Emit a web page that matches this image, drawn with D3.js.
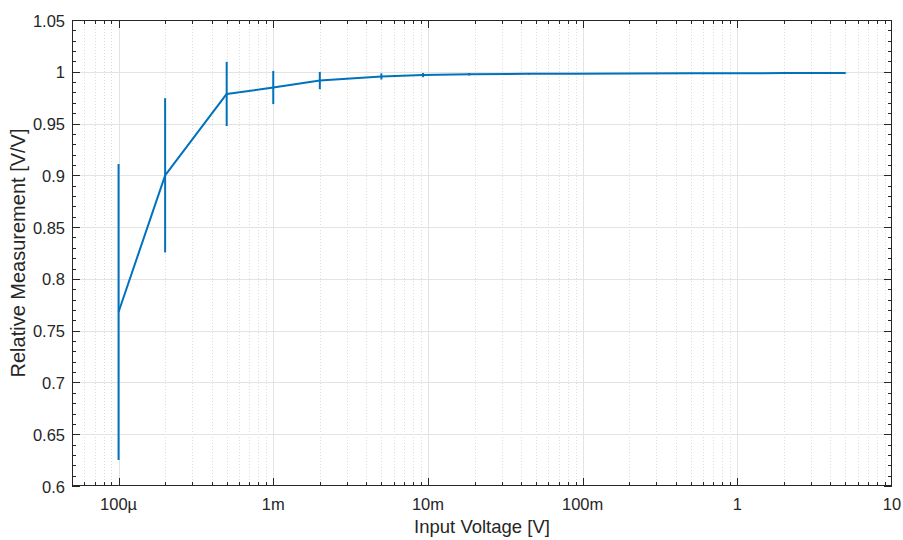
<!DOCTYPE html>
<html>
<head>
<meta charset="utf-8">
<script src="https://cdn.jsdelivr.net/npm/d3@7"></script>
<style>
  body { margin: 0; background: #fff; }
  text { font-family: "Liberation Sans", Arial, sans-serif; fill: #262626; }
</style>
</head>
<body>
<script>
// measured points: input voltage [V], relative measurement [V/V], error half-width
const voltage = [1e-4, 2e-4, 5e-4, 1e-3, 2e-3, 5e-3, 9.3e-3, 1.85e-2, 4.5e-2, 9e-2, 0.2, 0.5, 1, 2, 5];
const relative = [0.768, 0.900, 0.9786, 0.9848, 0.9915, 0.9955, 0.9968, 0.9976, 0.998, 0.9982, 0.9984, 0.9985, 0.9986, 0.9987, 0.9988];
const errHalf = [0.143, 0.0745, 0.031, 0.016, 0.0083, 0.003, 0.002, 0.0012, 0.0008, 0.0005, 0.0004, 0.0004, 0.0004, 0.0004, 0.0004];

const xTicks = [1e-4, 1e-3, 1e-2, 1e-1, 1, 10];
const xTickLabels = ['100µ', '1m', '10m', '100m', '1', '10'];
const yTicks = [0.6, 0.65, 0.7, 0.75, 0.8, 0.85, 0.9, 0.95, 1, 1.05];
const yTickLabels = ['0.6', '0.65', '0.7', '0.75', '0.8', '0.85', '0.9', '0.95', '1', '1.05'];

const width = 903, height = 540;
const mLeft = 72, mRight = 892, mTop = 20, mBottom = 486;
const blue = '#0072bd', axisColor = '#262626';

const x = d3.scaleLog().domain([5e-5, 10]).range([mLeft, mRight]);
const y = d3.scaleLinear().domain([0.6, 1.05]).range([mBottom, mTop]);

// minor log ticks 1..9 x 10^k inside the domain
let xMinor = [];
for (let e = -5; e <= 0; e++) {
    for (let m = 2; m <= 9; m++) {
        let v = m * Math.pow(10, e);
        if (v > 5e-5 && v < 10) xMinor.push(v);
    }
}
let yMinor = d3.range(0.6, 1.0501, 0.01).filter(v => !yTicks.some(t => Math.abs(t - v) < 1e-6));

const svg = d3.select('body').append('svg')
    .attr('width', width)
    .attr('height', height);

// grid
const grid = svg.append('g');
grid.selectAll('.xminor')
    .data(xMinor)
    .join('line')
    .attr('x1', d => Math.round(x(d)) + 0.5).attr('x2', d => Math.round(x(d)) + 0.5)
    .attr('y1', mTop).attr('y2', mBottom)
    .attr('stroke', '#dcdcdc')
    .attr('stroke-dasharray', '1,2');
grid.selectAll('.xmajor')
    .data(xTicks.filter(v => v < 10))
    .join('line')
    .attr('x1', d => Math.round(x(d)) + 0.5).attr('x2', d => Math.round(x(d)) + 0.5)
    .attr('y1', mTop).attr('y2', mBottom)
    .attr('stroke', '#e3e3e3');
grid.selectAll('.ymajor')
    .data(yTicks.slice(1, -1))
    .join('line')
    .attr('x1', mLeft).attr('x2', mRight)
    .attr('y1', d => Math.round(y(d)) + 0.5).attr('y2', d => Math.round(y(d)) + 0.5)
    .attr('stroke', '#e3e3e3');

// data line and error bars
const line = d3.line()
    .x((d, i) => x(voltage[i]))
    .y(d => y(d));

svg.append('g')
    .selectAll('line')
    .data(voltage)
    .join('line')
    .attr('x1', d => x(d)).attr('x2', d => x(d))
    .attr('y1', (d, i) => y(relative[i] - errHalf[i]))
    .attr('y2', (d, i) => y(relative[i] + errHalf[i]))
    .attr('stroke', blue)
    .attr('stroke-width', 2);

svg.append('path')
    .datum(relative)
    .attr('d', line)
    .attr('fill', 'none')
    .attr('stroke', blue)
    .attr('stroke-width', 2)
    .attr('stroke-linejoin', 'round');

// axes box with inward ticks on all sides
const ax = svg.append('g').attr('stroke', axisColor).attr('stroke-width', 1);
ax.append('rect')
    .attr('x', mLeft + 0.5).attr('y', mTop + 0.5)
    .attr('width', mRight - mLeft - 1).attr('height', mBottom - mTop - 1)
    .attr('fill', 'none');

function xTickMarks(data, len) {
    data.forEach(v => {
        let px = Math.round(x(v)) + 0.5;
        ax.append('line').attr('x1', px).attr('x2', px).attr('y1', mBottom).attr('y2', mBottom - len);
        ax.append('line').attr('x1', px).attr('x2', px).attr('y1', mTop).attr('y2', mTop + len);
    });
}
function yTickMarks(data, len) {
    data.forEach(v => {
        let py = Math.round(y(v)) + 0.5;
        ax.append('line').attr('x1', mLeft).attr('x2', mLeft + len).attr('y1', py).attr('y2', py);
        ax.append('line').attr('x1', mRight).attr('x2', mRight - len).attr('y1', py).attr('y2', py);
    });
}
xTickMarks(xTicks.filter(v => v < 10), 8);
xTickMarks(xMinor, 4);
yTickMarks(yTicks, 8);
yTickMarks(yMinor, 4);

// tick labels
svg.append('g')
    .selectAll('text')
    .data(xTicks)
    .join('text')
    .attr('x', d => x(d))
    .attr('y', 510)
    .attr('text-anchor', 'middle')
    .style('font-size', '16.5px')
    .text((d, i) => xTickLabels[i]);

svg.append('g')
    .selectAll('text')
    .data(yTicks)
    .join('text')
    .attr('x', mLeft - 7)
    .attr('y', d => y(d) + 6.5)
    .attr('text-anchor', 'end')
    .style('font-size', '16.5px')
    .text((d, i) => yTickLabels[i]);

// axis titles
svg.append('text')
    .attr('x', (mLeft + mRight) / 2)
    .attr('y', 533)
    .attr('text-anchor', 'middle')
    .style('font-size', '18.5px')
    .text('Input Voltage [V]');

svg.append('text')
    .attr('transform', `translate(25,${(mTop + mBottom) / 2}) rotate(-90)`)
    .attr('text-anchor', 'middle')
    .style('font-size', '20px')
    .text('Relative Measurement [V/V]');
</script>
</body>
</html>
